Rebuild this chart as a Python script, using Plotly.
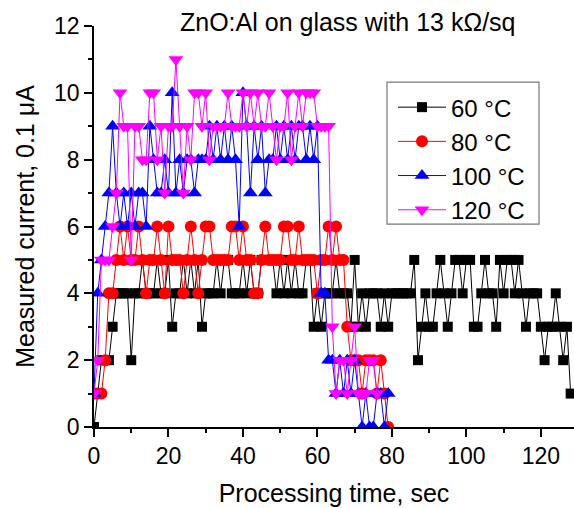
import plotly.graph_objects as go

c60 = [0, 1, 2, 2, 2, 3, 4, 4, 4, 4, 2, 4, 4, 5, 4, 4, 4, 5, 4, 4,
       5, 3, 4, 4, 5, 4, 5, 4, 5, 3, 4, 4, 4, 5, 4, 5, 5, 4, 4, 4,
       5, 4, 5, 4, 4, 5, 5, 5, 5, 4, 5, 4, 5, 4, 5, 4, 4, 5, 5, 3, 4,
       3, 4, 4, 4, 5, 4, 4, 4, 3, 5, 3, 4, 3, 4, 4, 4, 3, 4, 3, 4,
       4, 4, 4, 4, 4, 5, 2, 3, 4, 3, 3, 4, 5, 4, 3, 4, 5, 5, 4, 5,
       5, 3, 3, 4, 5, 4, 4, 3, 5, 4, 5, 5, 4, 5, 4, 3, 4, 4, 4, 3, 2,
       3, 3, 4, 3, 2, 3, 1]
t60 = list(range(len(c60)))

c80 = [1, 1, 1, 2, 4, 4, 5, 6, 5, 6, 5, 5, 6, 5, 4, 5, 5, 6, 5, 4,
       6, 5, 5, 5, 4, 5, 6, 5, 4, 5, 6, 6, 5, 5, 5, 5, 5, 6, 6, 5, 6,
       5, 5, 4, 4, 5, 6, 5, 5, 5, 5, 6, 6, 5, 5, 6, 5, 5, 5, 5, 4, 5,
       5, 6, 5, 6, 5, 5, 3, 2, 2, 2, 1, 2, 2, 2, 1, 2, 1, 0]
t80 = list(range(len(c80)))

c100 = [1, 4, 5, 6, 7, 9, 7, 6, 7, 6, 7, 6, 7, 7, 6, 9, 8, 7, 7, 8,
        7, 10, 7, 8, 7, 8, 8, 7, 8, 8, 8, 9, 8, 9, 8, 9, 8, 9, 8, 6, 10,
        9, 7, 9, 8, 9, 7, 8, 8, 9, 8, 9, 8, 9, 8, 9, 9, 8, 9, 8, 9,
        4, 4, 2, 2, 1, 2, 1, 2, 1, 2, 1, 0, 1, 0, 0, 1, 1, 0, 1]
t100 = list(range(len(c100)))

c120 = [1, 2, 5, 5, 5, 6, 7, 10, 9, 9, 5, 9, 9, 8, 8, 10, 10, 8, 9, 7,
        9, 9, 11, 9, 7, 9, 8, 10, 10, 9, 10, 8, 9, 9, 9, 9, 10, 9, 9, 9, 10, 9,
        10, 9, 10, 9, 9, 10, 9, 8, 9, 9, 10, 8, 9, 10, 9, 10, 10, 10, 9, 9,
        9, 9, 3, 1, 2, 2, 1, 2, 3, 1, 1, 1, 2, 2, 1]
t120 = list(range(len(c120)))

names = ["60 °C", "80 °C", "100 °C", "120 °C"]
colors = ["#000000", "#ff0000", "#0000ff", "#ff00ff"]
symbols = ["square", "circle", "triangle-up", "triangle-down"]
sizes = [10, 12, 13, 13]
xs = [t60, t80, t100, t120]
ys = [c60, c80, c100, c120]

FONT = "Liberation Sans, Arial, sans-serif"

fig = go.Figure()
for x, y, n, c, s, sz in zip(xs, ys, names, colors, symbols, sizes):
    fig.add_trace(go.Scatter(
        x=x, y=y, name=n, mode="lines+markers",
        line=dict(color=c, width=1),
        marker=dict(color=c, symbol=s, size=sz, line=dict(width=0)),
    ))

axis_common = dict(
    showline=True, linecolor="black", linewidth=1.5, mirror=False,
    ticks="outside", ticklen=8, tickwidth=1.5, tickcolor="black",
    showgrid=False, zeroline=False,
    tickfont=dict(family=FONT, size=23, color="black"),
)

fig.update_xaxes(
    range=[0, 128.9], dtick=20, tick0=0,
    minor=dict(ticks="outside", ticklen=4, tickwidth=1.5, dtick=10, tickcolor="black"),
    title=dict(text="Processing time, sec", font=dict(family=FONT, size=25, color="black"), standoff=16),
    **axis_common,
)
fig.update_yaxes(
    range=[0, 12], dtick=2, tick0=0,
    minor=dict(ticks="outside", ticklen=4, tickwidth=1.5, dtick=1, tickcolor="black"),
    title=dict(text="Measured current, 0.1 μA", font=dict(family=FONT, size=25, color="black"), standoff=12),
    **axis_common,
)

PW, PH, L, B = 480, 400.7, 94, 426.7

def px2x(p):
    return (p - L) / PW

def px2y(p):
    return (B - p) / PH

fig.update_layout(
    width=574, height=508,
    margin=dict(l=94, r=0, t=26, b=81.3),
    plot_bgcolor="white", paper_bgcolor="white",
    showlegend=True,
    legend=dict(
        x=px2x(393), y=px2y(85), xanchor="left", yanchor="top",
        borderwidth=0, bgcolor="rgba(0,0,0,0)",
        font=dict(family=FONT, size=24, color="black"),
        tracegroupgap=0, itemsizing="trace", itemwidth=48,
    ),
    shapes=[dict(
        type="rect", xref="paper", yref="paper",
        x0=px2x(387), x1=px2x(539), y0=px2y(224), y1=px2y(82),
        line=dict(color="#777777", width=1.2), fillcolor="rgba(0,0,0,0)",
    )],
    annotations=[dict(
        text="ZnO:Al on glass with 13 kΩ/sq", xref="paper", yref="paper",
        x=px2x(347.5), y=1, xanchor="center", yanchor="middle", yshift=4,
        showarrow=False, font=dict(family=FONT, size=25, color="black"),
    )],
)

fig.write_html("out.html")
